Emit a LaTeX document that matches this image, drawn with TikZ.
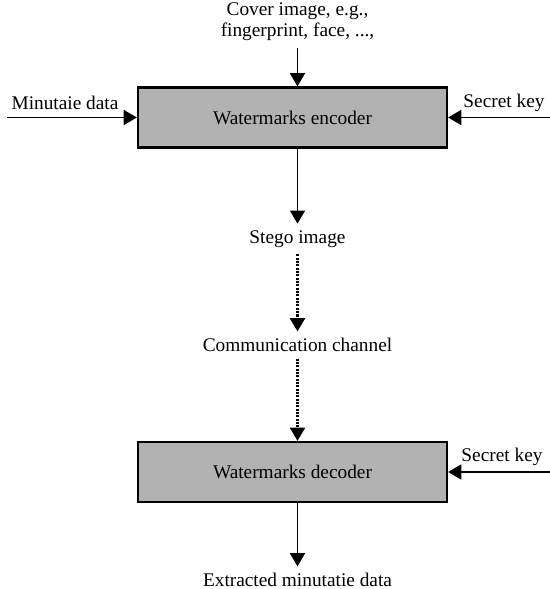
\documentclass[tikz,border=0pt]{standalone}
\usepackage{fontspec}
\setmainfont{Liberation Serif}
\usetikzlibrary{arrows.meta}

\begin{document}
\begin{tikzpicture}[x=0.02cm, y=-0.02cm, line width=1.1pt,
    font=\fontsize{11}{12}\selectfont,
    box/.style={draw, fill=black!30, line width=1.3pt, inner sep=0pt,
                minimum width=6.18cm, minimum height=1.2cm},
    arr/.style={-{Triangle[width=8.5pt,length=7.5pt]}},
    dotarr/.style={arr, line width=1.3pt, dash pattern=on 1.2pt off 0.7pt}]
    % 1. Frame of the picture
    \useasboundingbox (0,0) rectangle (550,589);

    % 2. The two boxes
    \node[box] (enc) at (292.5,117.5) {Watermarks encoder};
    \node[box] (dec) at (292.5,472) {Watermarks decoder};

    % 3. Labels
    \node[align=center] (cover) at (297.5,22) {Cover image, e.g.,\\fingerprint, face, ...,};
    \node (minu) at (65,103) {Minutaie data};
    \node (keyA) at (504,103) {Secret key};
    \node (stego) at (297.5,239) {Stego image};
    \node (chan) at (297.5,345) {Communication channel};
    \node (keyB) at (502,457) {Secret key};
    \node (extr) at (297.5,580) {Extracted minutatie data};

    % 4. Free ends of the side arrows
    \coordinate (minuin) at (7,117.5);
    \coordinate (keyAin) at (550,117.5);
    \coordinate (keyBin) at (550,472);

    % 5. Encoder arrows
    \draw[arr] (cover.south) -- (cover.south |- enc.north);
    \draw[arr] (minuin) -- (enc.west);
    \draw[arr] (keyAin) -- (enc.east);
    \draw[arr] (stego |- enc.south) -- (stego.north);

    % 6. Channel (dotted)
    \draw[dotarr] (stego.south) -- (chan.north);
    \draw[dotarr] (chan.south) -- (chan.south |- dec.north);

    % 7. Decoder arrows
    \draw[arr] (keyBin) -- (dec.east);
    \draw[arr] (extr |- dec.south) -- (extr.north);

\end{tikzpicture}
\end{document}
